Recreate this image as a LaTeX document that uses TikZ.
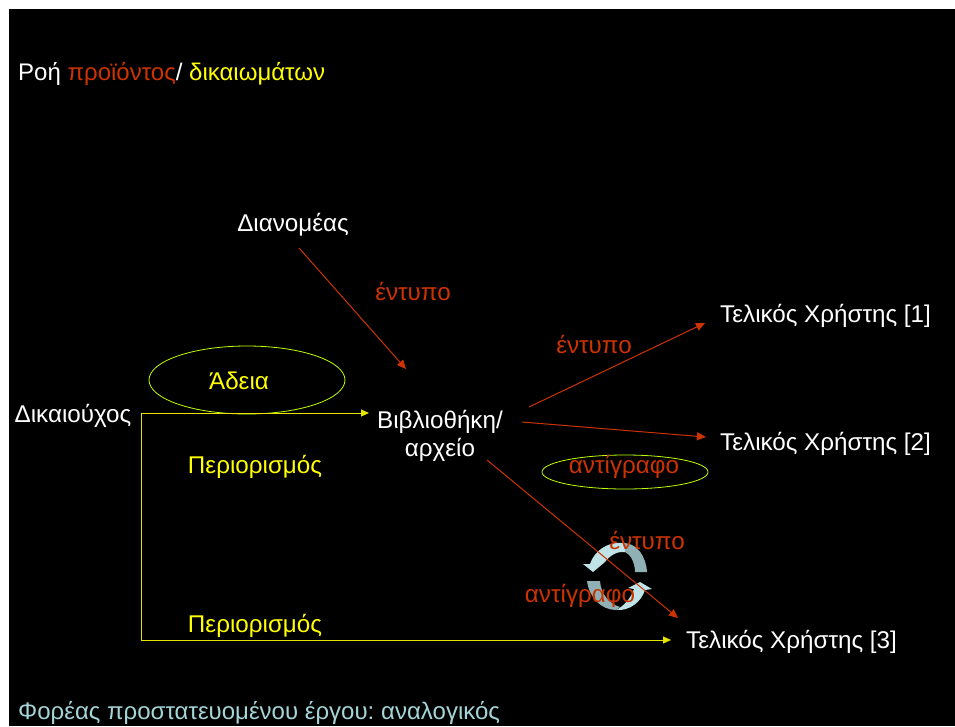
\documentclass[tikz,border=0pt]{standalone}
\usepackage{fontspec}
\usepackage{xcolor}
\setmainfont{Liberation Sans}
\usetikzlibrary{arrows.meta}
\definecolor{prodred}{HTML}{CC3300}
\definecolor{rightsyellow}{HTML}{FFFF00}
\definecolor{carrierblue}{HTML}{A5D5D8}
\definecolor{cycledark}{HTML}{8FB0B5}
\definecolor{cyclelight}{HTML}{BFE3E6}
\begin{document}
\begin{tikzpicture}[
            x=1pt, y=-1pt,
            label/.style={inner sep=0pt, font=\fontsize{24.2}{28}\selectfont, text=white, align=center},
            headline/.style={label, anchor=west, font=\fontsize{24}{28}\selectfont},
            prodlabel/.style={label, text=prodred},
            rightslabel/.style={label, text=rightsyellow},
            prodline/.style={draw=prodred, line width=1pt, -{Triangle[length=9pt,width=8pt]}},
            rightsline/.style={draw=rightsyellow!90!black, line width=1pt, -{Triangle[length=8pt,width=7pt]}},
            licenceloop/.style={draw=rightsyellow!75!green, line width=0.8pt}
        ]

            \useasboundingbox (0, 0) rectangle (955, 726);
            \fill[white] (0, 0) rectangle (955, 726);
            \fill[black] (9, 9) rectangle (955, 726);

            % ellipses behind the labels
            \draw[licenceloop] (247, 380) ellipse [x radius=98, y radius=34];
            \draw[licenceloop] (625, 472) ellipse [x radius=83, y radius=17];

            % the two turning arrows
            \fill[cyclelight]
                (625, 543) .. controls (606, 541) and (594, 552) .. (590, 564)
                -- (583, 564) -- (593, 572) -- (605, 562)
                .. controls (610, 555) and (618, 551) .. (625, 552) -- cycle;
            \fill[cycledark]
                (635, 572) -- (647, 572) .. controls (646, 556) and (637, 544) .. (625, 543)
                -- (625, 552) .. controls (630, 554) and (635, 562) .. (635, 572) -- cycle;
            \fill[cycledark]
                (587, 581) .. controls (589, 597) and (601, 610) .. (616, 610)
                -- (620, 607) .. controls (610, 604) and (601, 595) .. (600, 581) -- cycle;
            \fill[cyclelight]
                (616, 610) .. controls (630, 611) and (641, 602) .. (645, 590)
                -- (652, 589) -- (640, 582) -- (628, 588) -- (634, 589)
                .. controls (631, 597) and (626, 604) .. (618, 609) -- cycle;

            % parties
            \node[label] (holder) at (73, 416) {Δικαιούχος};
            \node[label] (distributor) at (293, 225) {Διανομέας};
            \node[label] (library) at (440, 436) {Βιβλιοθήκη/\\αρχείο};
            \node[label, anchor=west] (userone) at (720, 316) {Τελικός Χρήστης [1]};
            \node[label, anchor=west] (usertwo) at (720, 444) {Τελικός Χρήστης [2]};
            \node[label, anchor=west] (userthree) at (686, 642) {Τελικός Χρήστης [3]};

            % free ends of the connectors
            \coordinate (holderend) at (141, 413);
            \coordinate (holderdown) at (141, 640);
            \coordinate (librarywest) at (369, 413);
            \coordinate (userthreewest) at (671, 640);
            \coordinate (distributorend) at (299, 248);
            \coordinate (libraryin) at (406, 369);
            \coordinate (toone) at (529, 407);
            \coordinate (oneend) at (705, 323);
            \coordinate (totwo) at (522, 422);
            \coordinate (twoend) at (706, 437);
            \coordinate (tothree) at (487, 460);
            \coordinate (threeend) at (678, 618);

            \draw[rightsline] (holderend) -- (librarywest);
            \draw[rightsline] (holderend) -- (holderdown) -- (userthreewest);
            \draw[prodline] (distributorend) -- (libraryin);
            \draw[prodline] (toone) -- (oneend);
            \draw[prodline] (totwo) -- (twoend);
            \draw[prodline] (tothree) -- (threeend);

            % labels on the flows
            \node[headline] (title) at (18, 74) {Ροή \textcolor{prodred}{προϊόντος}/ \textcolor{rightsyellow}{δικαιωμάτων}};
            \node[prodlabel] (printdist) at (413, 291) {έντυπο};
            \node[prodlabel] (printone) at (594, 344) {έντυπο};
            \node[rightslabel] (licence) at (239, 381) {Άδεια};
            \node[rightslabel] (limitone) at (255, 467) {Περιορισμός};
            \node[rightslabel] (limittwo) at (255, 626) {Περιορισμός};
            \node[prodlabel] (copytwo) at (624, 467) {αντίγραφο};
            \node[prodlabel] (printthree) at (647, 540) {έντυπο};
            \node[prodlabel] (copythree) at (580, 596) {αντίγραφο};
            \node[headline, text=carrierblue] (carrier) at (18, 713) {Φορέας προστατευομένου έργου:\hspace{-2pt} αναλογικός};
        \end{tikzpicture}
\end{document}
